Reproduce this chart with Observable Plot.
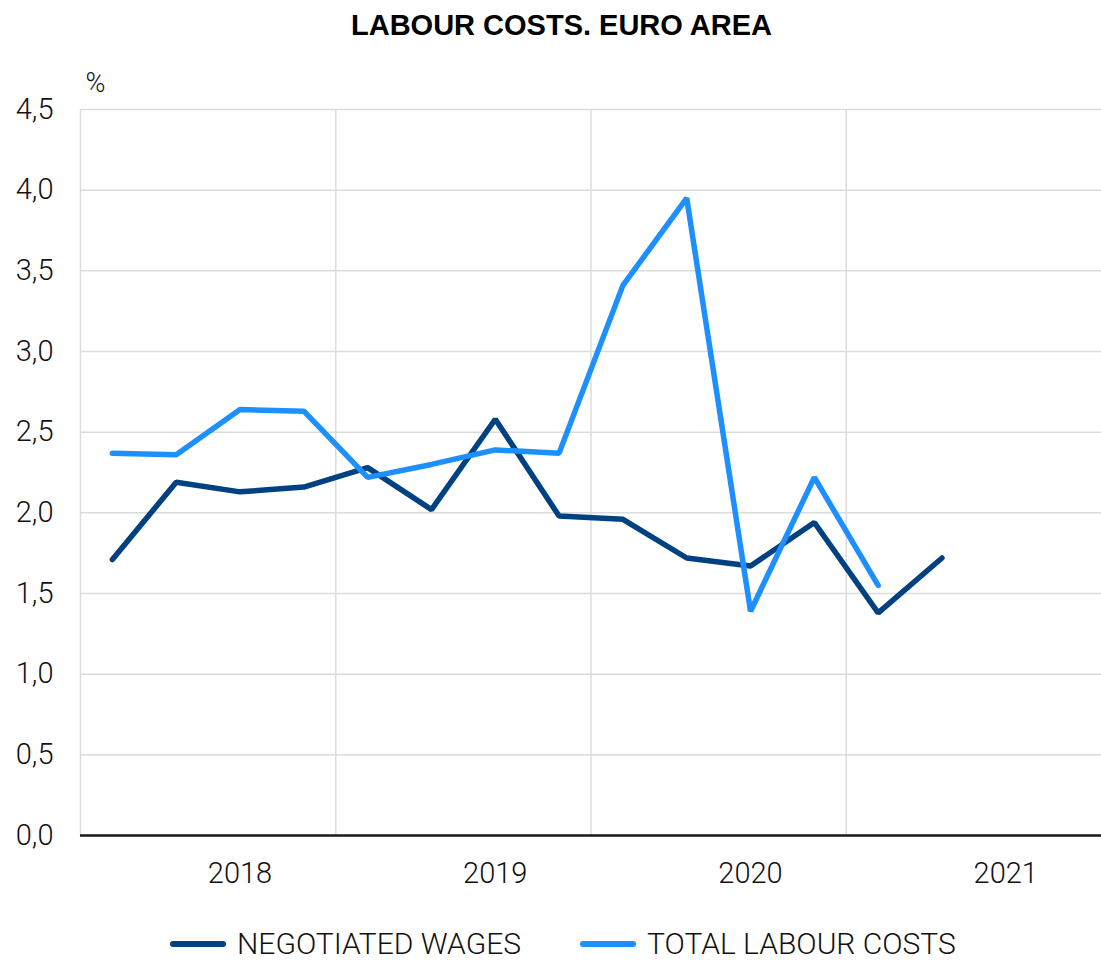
<!DOCTYPE html>
<html>
<head>
<meta charset="utf-8">
<script src="https://cdn.jsdelivr.net/npm/d3@7"></script>
<script src="https://cdn.jsdelivr.net/npm/@observablehq/plot@0.6"></script>
<style>
  html, body { margin: 0; padding: 0; background: #fff; }
  body { width: 1101px; height: 961px; overflow: hidden; font-family: Roboto, "Liberation Sans", sans-serif; }
  #title { height: 50px; line-height: 50px; text-align: center; padding-left: 22px; font-family: "Liberation Sans", Arial, sans-serif; font-weight: bold; font-size: 29px; color: #000; }
  #chart svg { display: block; }
  #legend { height: 61px; position: relative; font-weight: 300; font-size: 30px; color: #111; }
  .item { position: absolute; top: 30px; display: flex; align-items: center; height: 28px; line-height: 28px; }
  .sw { width: 56px; height: 6px; border-radius: 3px; margin-right: 11px; }
</style>
</head>
<body>
<div id="title">LABOUR COSTS. EURO AREA</div>
<div id="chart"></div>
<div id="legend"></div>
<script>
const quarters = ["2018Q1","2018Q2","2018Q3","2018Q4","2019Q1","2019Q2","2019Q3","2019Q4",
                  "2020Q1","2020Q2","2020Q3","2020Q4","2021Q1","2021Q2","2021Q3","2021Q4"];
const negotiatedWages = [1.71, 2.19, 2.13, 2.16, 2.28, 2.02, 2.58, 1.98, 1.96, 1.72, 1.67, 1.94, 1.38, 1.72];
const totalLabourCosts = [2.37, 2.36, 2.64, 2.63, 2.22, 2.30, 2.39, 2.37, 3.41, 3.95, 1.39, 2.22, 1.55];
const years = ["2018", "2019", "2020", "2021"];
const yTicks = [0, 0.5, 1, 1.5, 2, 2.5, 3, 3.5, 4, 4.5];
const seriesNames = ["NEGOTIATED WAGES", "TOTAL LABOUR COSTS"];
const colors = ["#004182", "#1e8fff"];

const rows = [];
negotiatedWages.forEach((v, i) => rows.push({q: i, v, s: seriesNames[0]}));
totalLabourCosts.forEach((v, i) => rows.push({q: i, v, s: seriesNames[1]}));

const yearTickPos = years.map(y => quarters.indexOf(y + "Q3"));
const yearBounds = [-0.5, ...years.slice(1).map(y => quarters.indexOf(y + "Q1") - 0.5)];
const fmt = d => d.toFixed(1).replace(".", ",");

const chart = Plot.plot({
  width: 1101,
  height: 850,
  marginLeft: 80,
  marginRight: 0,
  marginTop: 59,
  marginBottom: 65,
  style: {fontFamily: "Roboto, 'Liberation Sans', sans-serif", fontSize: "28px", fontWeight: 300, color: "#111", background: "#fff"},
  x: {domain: [-0.5, quarters.length - 0.5], axis: null},
  y: {domain: [0, 4.5], axis: null},
  color: {domain: seriesNames, range: colors},
  marks: [
    Plot.ruleY(yTicks, {stroke: "#dcdcdc", strokeWidth: 1.5, x1: -0.5, x2: quarters.length - 0.5}),
    Plot.ruleX(yearBounds, {stroke: "#dcdcdc", strokeWidth: 1.5, y1: 0, y2: 4.5}),
    Plot.axisY(yTicks, {tickSize: 0, tickPadding: 27, tickFormat: fmt, fontSize: 29, fontWeight: 300, label: null}),
    Plot.axisX(yearTickPos, {tickSize: 0, tickPadding: 27, tickFormat: i => quarters[i].slice(0, 4), fontSize: 29, fontWeight: 300, label: null}),
    Plot.text(["%"], {frameAnchor: "top-left", dx: 5, dy: -37, fontSize: 27, fontWeight: 300, fill: "#111"}),
    Plot.line(rows, {x: "q", y: "v", z: "s", stroke: "s", strokeWidth: 5.5, strokeLinecap: "round", strokeLinejoin: "miter"}),
    Plot.ruleY([0], {stroke: "#1a1a1a", strokeWidth: 2.5, x1: -0.5, x2: quarters.length - 0.5})
  ]
});
document.getElementById("chart").appendChild(chart);

const legend = document.getElementById("legend");
const lefts = [170, 580];
seriesNames.forEach((name, k) => {
  const it = document.createElement("div");
  it.className = "item";
  it.style.left = lefts[k] + "px";
  const sw = document.createElement("span");
  sw.className = "sw";
  sw.style.background = colors[k];
  const tx = document.createElement("span");
  tx.textContent = name;
  it.appendChild(sw); it.appendChild(tx);
  legend.appendChild(it);
});
</script>
</body>
</html>
